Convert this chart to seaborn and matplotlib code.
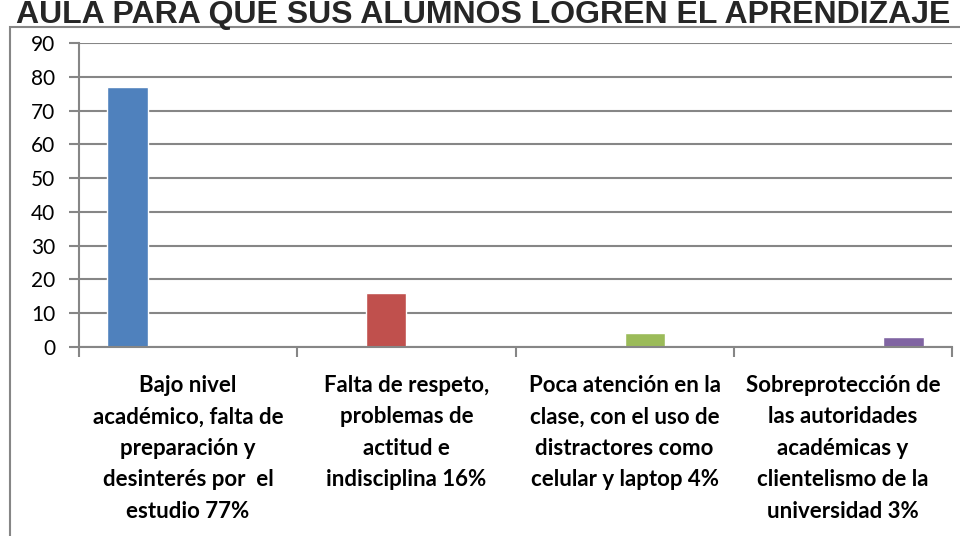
import matplotlib
matplotlib.use('Agg')
import matplotlib.pyplot as plt
import seaborn as sns
import pandas as pd
import numpy as np

categories = [
    'Bajo nivel\nacadémico, falta de\npreparación y\ndesinterés por  el\nestudio 77%',
    'Falta de respeto,\nproblemas de\nactitud e\nindisciplina 16%',
    'Poca atención en la\nclase, con el uso de\ndistractores como\ncelular y laptop 4%',
    'Sobreprotección de\nlas autoridades\nacadémicas y\nclientelismo de la\nuniversidad 3%',
]
series = ['Serie 1', 'Serie 2', 'Serie 3', 'Serie 4']
values = [77, 16, 4, 3]
colors = ['#4F81BD', '#C0504D', '#9BBB59', '#8064A2']
title = 'AULA PARA QUE SUS ALUMNOS LOGREN EL APRENDIZAJE'

# each category holds only its own series, the rest are zero
rows = []
for i, c in enumerate(categories):
    for j, s in enumerate(series):
        rows.append({'cat': c, 'serie': s, 'valor': values[i] if i == j else 0})
df = pd.DataFrame(rows)

sns.set_theme(style='white')
plt.rcParams['font.family'] = ['Lato', 'DejaVu Sans']

fig = plt.figure(figsize=(9.6, 5.36), dpi=100)
ax = fig.add_axes([79/960, 1 - 347/536, (952 - 79)/960, (347 - 43)/536])

sns.barplot(data=df, x='cat', y='valor', hue='serie', palette=colors,
            order=categories, hue_order=series, width=0.74, gap=0,
            saturation=1, ax=ax, legend=False)

ax.set_ylim(0, 90)
ax.set_xlim(-0.5, 3.5)
ax.set_yticks(np.arange(0, 91, 10))
ax.yaxis.grid(True, color='#868686', linewidth=1.5)
ax.set_axisbelow(True)
ax.set_xlabel('')
ax.set_ylabel('')

for side in ['top', 'right']:
    ax.spines[side].set_visible(False)
for side in ['left', 'bottom']:
    ax.spines[side].set_color('#868686')
    ax.spines[side].set_linewidth(1.5)

ax.tick_params(axis='y', which='major', length=7, width=1.5, color='#868686',
               direction='out', labelsize=15, pad=10, labelcolor='black', left=True)
ax.set_xticks(np.arange(len(categories)))
ax.set_xticklabels(categories, fontsize=16, fontweight='bold', linespacing=1.62)
ax.tick_params(axis='x', which='major', length=0, pad=20, labelcolor='black')
ax.set_xticks(np.arange(-0.5, len(categories)), minor=True)
ax.tick_params(axis='x', which='minor', length=7, width=1.5, color='#868686',
               direction='out', bottom=True)

# chart area border (clipped like the original)
fig.add_artist(plt.Rectangle((10/960, -0.1), 1.2, 1 - 27/536 + 0.1,
                             transform=fig.transFigure, fill=False,
                             edgecolor='#868686', linewidth=1.5))

fig.text(0.503, 1 - 23/536, title, ha='center', va='baseline',
         fontsize=23, fontweight='bold', family=['Liberation Sans', 'DejaVu Sans'])

fig.savefig('out.png', dpi=100)
